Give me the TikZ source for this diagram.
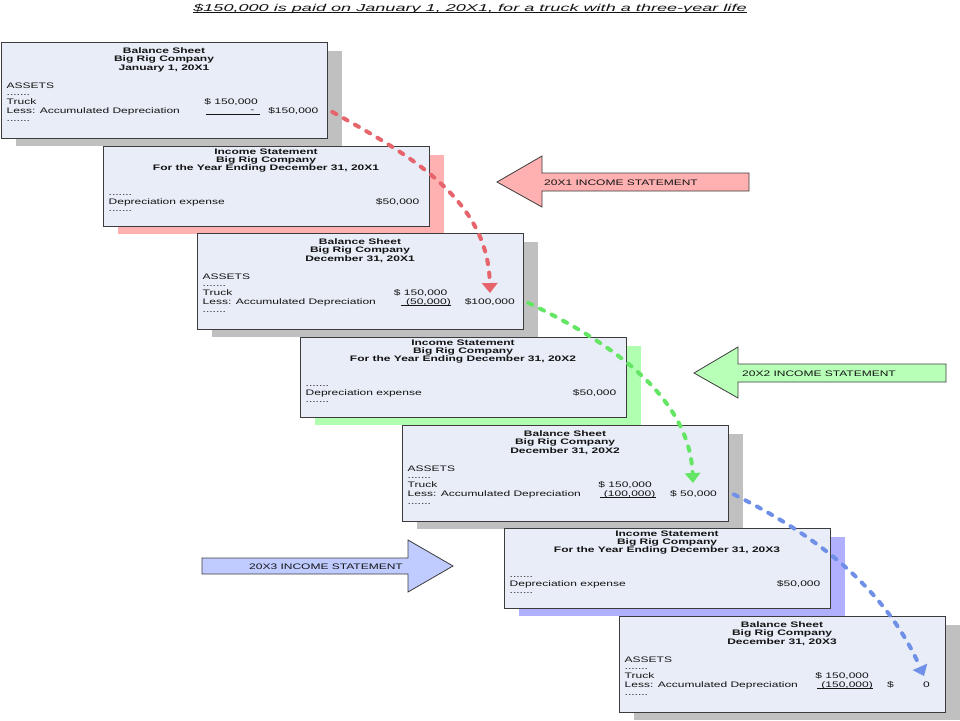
\documentclass[tikz,border=0pt]{standalone}
\usepackage{fontspec}
\setmainfont{Liberation Sans}[FakeStretch=1.5]
\newfontfamily\titlefont{Liberation Sans}[FakeStretch=1.81]
\usetikzlibrary{calc,shadows,arrows.meta}
\definecolor{boxfill}{RGB}{232,237,247}
\definecolor{boxline}{RGB}{60,60,60}
\definecolor{shgray}{RGB}{192,192,192}
\definecolor{shred}{RGB}{255,176,176}
\definecolor{shgreen}{RGB}{176,255,176}
\definecolor{shblue}{RGB}{176,176,255}
\definecolor{arred}{RGB}{255,176,176}
\definecolor{argreen}{RGB}{184,255,184}
\definecolor{arblue}{RGB}{192,204,255}
\definecolor{dred}{RGB}{230,100,108}
\definecolor{dgreen}{RGB}{100,230,100}
\definecolor{dblue}{RGB}{112,144,232}
\definecolor{txt}{RGB}{20,20,20}
\tikzset{
  panel/.style={draw=boxline, line width=1.3pt, fill=boxfill, minimum width=326pt,
    inner sep=0pt, anchor=north west,
    drop shadow={shadow xshift=14pt, shadow yshift=-8pt, fill=#1, opacity=1}},
  bsbox/.style={panel=shgray, minimum height=95.5pt},
  isbox/.style={panel=#1, minimum height=79.5pt},
  hd/.style={font=\fontsize{8}{9}\selectfont\bfseries, anchor=base, inner sep=0pt, text=txt},
  tl/.style={font=\fontsize{8}{9}\selectfont, anchor=base west, inner sep=0pt, text=txt},
  trt/.style={font=\fontsize{8}{9}\selectfont, anchor=base east, inner sep=0pt, text=txt},
  uline/.style={draw=txt, line width=0.7pt},
  blockarrow/.style={draw=boxline, line width=0.8pt, fill=#1},
  flow/.style={draw=#1, line width=4pt, dash pattern=on 4.5pt off 8.5pt, line cap=round,
    -{Triangle[width=16pt,length=10pt,line width=0pt]}},
}
\newcommand{\bsbody}[2]{%
  \node[hd] (#1h1) at ($(#1.north west)+(163,11)$) {Balance Sheet};
  \node[hd] (#1h2) at ($(#1.north west)+(163,19.5)$) {Big Rig Company};
  \node[hd] (#1h3) at ($(#1.north west)+(163,28)$) {#2};
  \node[tl] (#1a) at ($(#1.north west)+(5.5,46)$) {ASSETS};
  \node[tl] (#1d1) at ($(#1.north west)+(5.5,53)$) {.......};
  \node[tl] (#1t) at ($(#1.north west)+(5.5,62.5)$) {Truck};
  \node[tl] (#1l) at ($(#1.north west)+(5.5,71.5)$) {Less: Accumulated Depreciation};
  \node[tl] (#1d2) at ($(#1.north west)+(5.5,79)$) {.......};
}
\newcommand{\isbody}[2]{%
  \node[hd] (#1h1) at ($(#1.north west)+(163,8)$) {Income Statement};
  \node[hd] (#1h2) at ($(#1.north west)+(163,16)$) {Big Rig Company};
  \node[hd] (#1h3) at ($(#1.north west)+(163,24)$) {For the Year Ending December 31, #2};
  \node[tl] (#1d1) at ($(#1.north west)+(5.5,49.5)$) {.......};
  \node[tl] (#1e) at ($(#1.north west)+(5.5,58.3)$) {Depreciation expense};
  \node[trt] (#1v) at ($(#1.north west)+(316.5,58.3)$) {\$50,000};
  \node[tl] (#1d2) at ($(#1.north west)+(5.5,65.5)$) {.......};
}
\begin{document}
\begin{tikzpicture}[x=1pt,y=-1pt]
\useasboundingbox (0,0) rectangle (960,720);
\fill[white] (0,0) rectangle (960,720);

% title
\node[anchor=base, inner sep=0pt, text=txt, font=\titlefont\fontsize{10}{12}\selectfont\itshape] (title) at (470,11)
  {\$150,000 is paid on January 1, 20X1, for a truck with a three-year life};
\draw[txt, line width=0.9pt] ($(title.base west)+(0,1.6)$) -- ($(title.base east)+(0,1.6)$);

% Balance sheet Jan 1, 20X1
\node[bsbox] (bs1) at (1,42) {};
\bsbody{bs1}{January 1, 20X1}
\node[trt] (bs1c1) at ($(bs1.north west)+(257,62.5)$) {\$ 150,000};
\node[trt] (bs1c2) at ($(bs1.north west)+(253.5,70.5)$) {-};
\coordinate (bs1u1) at ($(bs1.north west)+(205,72.7)$);
\coordinate (bs1u2) at ($(bs1.north west)+(259,72.7)$);
\draw[uline] (bs1u1) -- (bs1u2);
\node[trt] (bs1c3) at ($(bs1.north west)+(317.5,71.5)$) {\$150,000};

% Income statement 20X1
\node[isbox=shred] (is1) at (103,146) {};
\isbody{is1}{20X1}

% Balance sheet Dec 31, 20X1
\node[bsbox] (bs2) at (197,233) {};
\bsbody{bs2}{December 31, 20X1}
\node[trt] (bs2c1) at ($(bs2.north west)+(250.5,62.5)$) {\$ 150,000};
\node[trt] (bs2c2) at ($(bs2.north west)+(254,71.5)$) {(50,000)};
\draw[uline] ($(bs2c2.base west)+(-5,1.2)$) -- ($(bs2c2.base east)+(0,1.2)$);
\node[trt] (bs2c3) at ($(bs2.north west)+(318,71.5)$) {\$100,000};

% Income statement 20X2
\node[isbox=shgreen] (is2) at (300,337) {};
\isbody{is2}{20X2}

% Balance sheet Dec 31, 20X2
\node[bsbox] (bs3) at (402,425) {};
\bsbody{bs3}{December 31, 20X2}
\node[trt] (bs3c1) at ($(bs3.north west)+(250,62.5)$) {\$ 150,000};
\node[trt] (bs3c2) at ($(bs3.north west)+(253.5,71.5)$) {(100,000)};
\draw[uline] ($(bs3c2.base west)+(-4,1.2)$) -- ($(bs3c2.base east)+(0,1.2)$);
\node[tl] (bs3c3) at ($(bs3.north west)+(268,71.5)$) {\$ 50,000};

% Income statement 20X3
\node[isbox=shblue] (is3) at (504,528) {};
\isbody{is3}{20X3}

% Balance sheet Dec 31, 20X3
\node[bsbox] (bs4) at (619,616) {};
\bsbody{bs4}{December 31, 20X3}
\node[trt] (bs4c1) at ($(bs4.north west)+(250,62.5)$) {\$ 150,000};
\node[trt] (bs4c2) at ($(bs4.north west)+(254,71.5)$) {(150,000)};
\draw[uline] ($(bs4c2.base west)+(-4,1.2)$) -- ($(bs4c2.base east)+(0,1.2)$);
\node[tl] (bs4c3) at ($(bs4.north west)+(268,71.5)$) {\$};
\node[trt] (bs4c4) at ($(bs4.north west)+(311,71.5)$) {0};

% block arrows
\draw[blockarrow=arred] (497,182) -- (542,156) -- (542,173) -- (749,173) -- (749,191) -- (542,191) -- (542,207) -- cycle;
\node[tl] (lab1) at (544,185) {20X1 INCOME STATEMENT};
\draw[blockarrow=argreen] (694,373) -- (738,347) -- (738,364) -- (946,364) -- (946,382) -- (738,382) -- (738,398) -- cycle;
\node[tl] (lab2) at (742,376) {20X2 INCOME STATEMENT};
\draw[blockarrow=arblue] (202,558) -- (408,558) -- (408,540) -- (453,566) -- (408,592) -- (408,574) -- (202,574) -- cycle;
\node[hd, font=\fontsize{8}{9}\selectfont] (lab3) at (326,569) {20X3 INCOME STATEMENT};

% dashed flow connectors
\coordinate (r1) at ($(bs1.east)+(4,21.5)$);
\coordinate (r2) at ($(bs2.north west)+(293,60)$);
\coordinate (g1) at ($(bs2.east)+(4,21.5)$);
\coordinate (g2) at ($(bs3.north west)+(291,58)$);
\coordinate (b1) at ($(bs3.east)+(4.5,21)$);
\coordinate (b2) at ($(bs4.north west)+(305,60)$);
\draw[flow=dred] (r1) .. controls +(75,42) and +(-2,-95) .. (r2);
\draw[flow=dgreen] (g1) .. controls +(75,36) and +(-4,-90) .. (g2);
\draw[flow=dblue] (b1) .. controls +(80,40) and +(-40,-90) .. (b2);
\end{tikzpicture}
\end{document}
